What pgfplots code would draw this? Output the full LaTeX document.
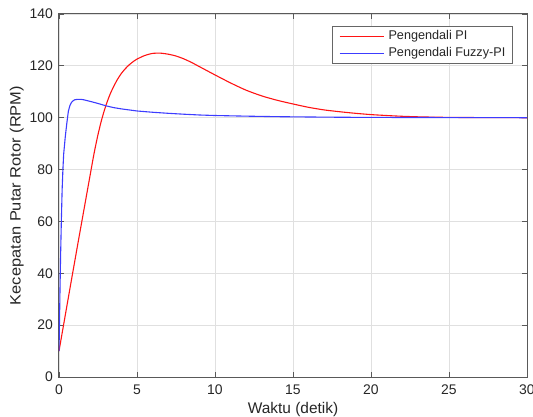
\documentclass[border=0pt]{standalone}
\usepackage{pgfplots}
\pgfplotsset{compat=1.18}
\usepackage{fontspec}
\setmainfont{Liberation Sans}
\usetikzlibrary{calc}
\definecolor{axgray}{gray}{0.35}
\definecolor{txtgray}{gray}{0.15}
\definecolor{gridgray}{gray}{0.88}
\definecolor{pired}{RGB}{255,20,20}
\definecolor{fzblue}{RGB}{60,60,255}
\begin{document}
\begin{tikzpicture}
\begin{axis}[
  name=ax,
  at={(0,0)}, anchor=south west,
  scale only axis,
  width=468bp, height=363bp,
  xmin=0, xmax=30, ymin=0, ymax=140,
  xtick={0,5,...,30}, ytick={0,20,...,140},
  /pgf/number format/assume math mode=true,
  tick label style={font=\fontsize{14}{16}\selectfont, text=txtgray},
  xticklabel style={inner sep=0pt, anchor=north, yshift=-8bp},
  yticklabel style={inner sep=0pt, anchor=east, xshift=-6bp},
  tick align=inside,
  major tick length=5bp,
  every tick/.style={axgray, line width=0.8bp},
  axis line style={axgray, line width=1bp},
  grid=major,
  major grid style={gridgray, line width=0.8bp},
  xlabel={Waktu (detik)},
  ylabel={\scalebox{1.1}[1]{Kecepatan Putar Rotor (RPM)}},
  xlabel style={at={(axis description cs:0.5,-0.0992)}, anchor=base, font=\fontsize{15.5}{18}\selectfont, text=txtgray},
  ylabel style={at={(axis description cs:-0.0818,0.5)}, anchor=base, rotate=0, font=\fontsize{15}{18}\selectfont, text=txtgray},
  legend style={at={(axis description cs:1,1)}, anchor=north east, xshift=-14.3bp, yshift=-12bp,
    draw=black!60, line width=0.8bp, fill=white,
    inner xsep=7bp, inner ysep=4bp, row sep=5.3bp, column sep=4.3bp,
    nodes={inner sep=0pt, text height=9bp, text depth=3bp, text=txtgray},
    font=\fontsize{12.7}{14}\selectfont},
  legend cell align=left,
]
\addlegendimage{legend image code/.code={\draw[pired, line width=1.1bp] (0bp,0bp) -- (44bp,0bp);}}
\addlegendentry{Pengendali PI}
\addlegendimage{legend image code/.code={\draw[fzblue, line width=1.1bp] (0bp,0bp) -- (44bp,0bp);}}
\addlegendentry{Pengendali Fuzzy-PI}
\addplot[pired, line width=1.1bp, smooth, tension=0.4, forget plot] coordinates {
(0,10) (0.25,18.6) (0.5,27.2) (0.75,35.8) (1.0,44.3) (1.25,52.8) (1.5,61.2) (1.75,69.6)
(2.0,78) (2.25,86.3) (2.5,93.5) (2.75,99.6) (3.0,104.6) (3.25,108.7) (3.5,112.0)
(3.75,114.8) (4.0,117.1) (4.25,118.9) (4.5,120.4) (4.75,121.6) (5.0,122.6) (5.5,124.0)
(6.0,124.8) (6.5,124.9) (7.0,124.5) (7.5,123.8) (8.0,122.7) (8.5,121.3) (9.0,119.7)
(9.5,118.1) (10,116.5) (11,113.4) (12,110.6) (13,108.4) (14,106.7) (15,105.3)
(16,104.0) (17,103.0) (18,102.3) (19,101.7) (20,101.2) (21,100.85) (22,100.55)
(23,100.35) (24,100.22) (25,100.13) (27,100.05) (30,100)
};
\addplot[fzblue, line width=1.1bp, forget plot] coordinates {
(0,10) (0.03,20) (0.06,32) (0.1,46) (0.15,60) (0.2,72) (0.25,80) (0.3,86)
(0.4,92.5) (0.5,97.8) (0.6,102.5) (0.7,104.7) (0.8,105.9) (0.9,106.5) (1.0,106.9)
(1.2,107.1) (1.4,107.1) (1.6,106.9) (1.8,106.6) (2.0,106.3) (2.5,105.5) (3.0,104.6)
(3.5,103.9) (4.0,103.4) (5.0,102.6) (6.0,102.1) (7.0,101.7) (8.0,101.35) (9.0,101.05)
(10,100.85) (12,100.6) (14,100.4) (16,100.28) (18,100.18) (20,100.12) (25,100.05) (30,100)
};
\end{axis}
\pgfresetboundingbox
\useasboundingbox ($(ax.south west)+(-59bp,-40bp)$) rectangle ($(ax.north east)+(6bp,14bp)$);
\end{tikzpicture}
\end{document}
